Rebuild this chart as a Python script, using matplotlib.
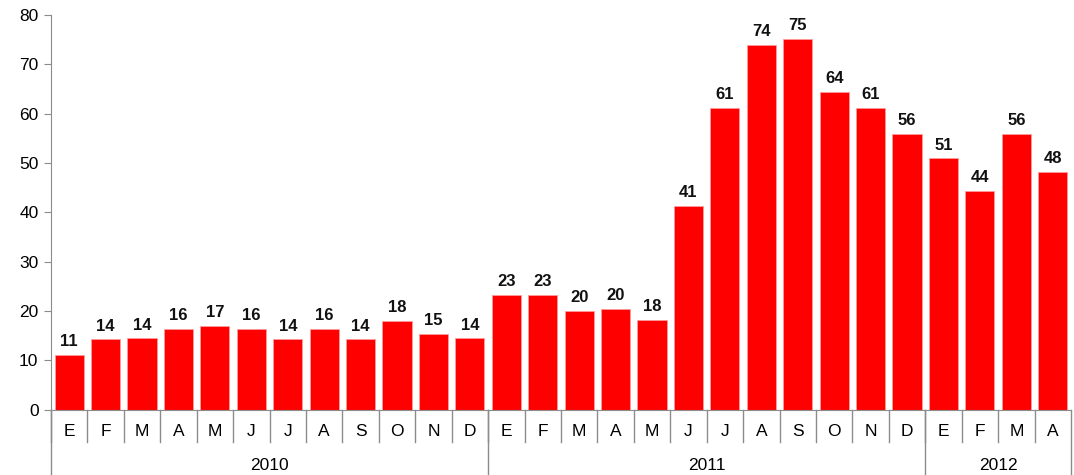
import matplotlib
matplotlib.use("Agg")
import matplotlib.pyplot as plt
import matplotlib.transforms as mtransforms

plt.rcParams['font.family'] = ['Liberation Sans', 'DejaVu Sans']

months = ['E', 'F', 'M', 'A', 'M', 'J', 'J', 'A', 'S', 'O', 'N', 'D',
          'E', 'F', 'M', 'A', 'M', 'J', 'J', 'A', 'S', 'O', 'N', 'D',
          'E', 'F', 'M', 'A']
years = ['2010', '2011', '2012']
year_counts = [12, 12, 4]
values = [11.0, 14.2, 14.4, 16.4, 17.0, 16.4, 14.2, 16.3, 14.2, 17.9, 15.4, 14.4,
          23.2, 23.2, 20.0, 20.4, 18.2, 41.3, 61.2, 73.9, 75.2, 64.4, 61.2, 55.9,
          50.9, 44.4, 55.9, 48.1]

grey = '#8c8c8c'
fig = plt.figure(figsize=(10.74, 4.75), dpi=100)
ax = fig.add_axes([51 / 1074, 1 - 409.5 / 475, 1020 / 1074, 394.5 / 475])

x = list(range(len(values)))
bars = ax.bar(x, values, width=0.8, color='#ff0000', edgecolor='#ff9a9a', linewidth=0.6)
for xi, v in zip(x, values):
    ax.text(xi, v + 1.2, '%d' % round(v), ha='center', va='bottom',
            fontsize=12, fontweight='bold', color='#111111')

ax.set_xlim(-0.5, len(values) - 0.5)
ax.set_ylim(0, 80)
ax.set_yticks(range(0, 81, 10))
ax.tick_params(axis='y', labelsize=12.5, length=5, color=grey, pad=4)
ax.set_xticks([])
for s in ['top', 'right']:
    ax.spines[s].set_visible(False)
ax.spines['left'].set_color(grey)
ax.spines['bottom'].set_color(grey)

trans = mtransforms.blended_transform_factory(ax.transData, ax.transAxes)
# month labels and separators
for i, m in enumerate(months):
    ax.text(i, -0.056, m, transform=trans, ha='center', va='center', fontsize=12.5)
    ax.plot([i - 0.5, i - 0.5], [0, -0.082], transform=trans, color=grey,
            lw=1, clip_on=False)
ax.plot([len(months) - 0.5] * 2, [0, -0.17], transform=trans, color=grey,
        lw=1, clip_on=False)

# year labels and separators
start = 0
for y, n in zip(years, year_counts):
    ax.text(start + n / 2 - 0.5, -0.141, y, transform=trans, ha='center',
            va='center', fontsize=12.5)
    ax.plot([start - 0.5] * 2, [0, -0.17], transform=trans, color=grey,
            lw=1, clip_on=False)
    start += n

fig.savefig('out.png', dpi=100)
